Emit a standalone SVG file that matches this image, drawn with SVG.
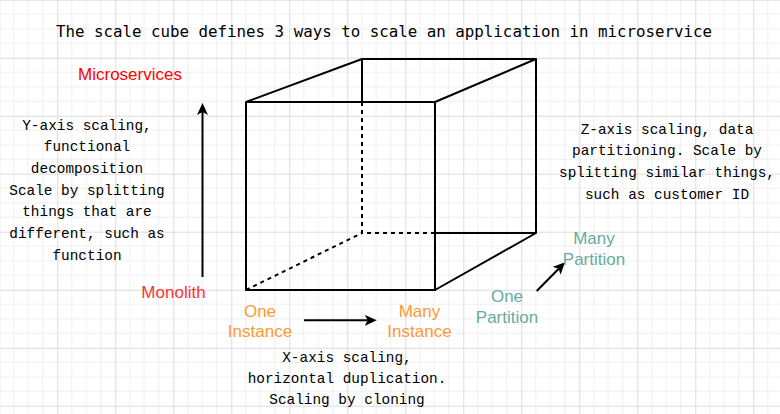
<svg xmlns="http://www.w3.org/2000/svg" width="780" height="414" viewBox="0 0 780 414">
<style>
.edge{fill:none;stroke:#000;stroke-width:2;stroke-linejoin:round}
.dash{stroke-dasharray:4 4}
.arrow{fill:none;stroke:#000;stroke-width:2}
.title{font-family:"DejaVu Sans Mono",monospace;font-size:15.8px;fill:#000}
.desc{font-family:"Liberation Mono","Courier New",monospace;font-size:14.4px;fill:#000}
.lbl{font-family:"Liberation Sans",Arial,sans-serif;font-size:17px}
</style>
<defs>
<pattern id="grid" patternUnits="userSpaceOnUse" x="-0.7" y="-0.3" width="58" height="58">
<rect width="58" height="58" fill="#fff"/>
<path d="M14.5 0V58M29 0V58M43.5 0V58M0 14.5H58M0 29H58M0 43.5H58" stroke="#efefef" stroke-width="1" fill="none"/>
<path d="M0.5 0V58M0 0.5H58" stroke="#dcdcdc" stroke-width="1" fill="none"/>
</pattern>
<marker id="arr" markerUnits="userSpaceOnUse" markerWidth="13" markerHeight="12" refX="3" refY="5.5" orient="auto">
<path d="M0 0L12 5.5L0 11L3 5.5Z" fill="#000"/>
</marker>
</defs>
<rect width="780" height="414" fill="url(#grid)"/>
<g id="title"><text class="title" x="384" y="37" text-anchor="middle">The scale cube defines 3 ways to scale an application in microservice</text></g>
<g id="cube">
<path class="edge" d="M246 102H435V290H246Z"/>
<path class="edge" d="M246 102L362 59H536V233M435 102L536 59M435 290L536 233H435M362 59V102"/>
<path class="edge dash" d="M362 102V233H435M246 290L362 233"/>
</g>
<g id="connectors">
<line class="arrow" x1="202.5" y1="277" x2="202.5" y2="112" marker-end="url(#arr)"/>
<line class="arrow" x1="304" y1="320.3" x2="367.7" y2="320.3" marker-end="url(#arr)"/>
<line class="arrow" x1="536.7" y1="291" x2="558.7" y2="268.7" marker-end="url(#arr)"/>
</g>
<g id="microservices"><text class="lbl" x="130" y="80" text-anchor="middle" fill="#ff0000">Microservices</text></g>
<g id="monolith"><text class="lbl" x="173.5" y="298" text-anchor="middle" fill="#ff3333">Monolith</text></g>
<g id="y-axis-text" class="desc" text-anchor="middle">
<text x="87" y="129.5">Y-axis scaling,</text>
<text x="87" y="151.2">functional</text>
<text x="87" y="172.9">decomposition</text>
<text x="87" y="194.6">Scale by splitting</text>
<text x="87" y="216.3">things that are</text>
<text x="87" y="238">different, such as</text>
<text x="87" y="259.7">function</text>
</g>
<g id="z-axis-text" class="desc" text-anchor="middle">
<text x="667" y="133.5">Z-axis scaling, data</text>
<text x="667" y="155.2">partitioning. Scale by</text>
<text x="667" y="176.9">splitting similar things,</text>
<text x="667" y="198.6">such as customer ID</text>
</g>
<g id="x-axis-text" class="desc" text-anchor="middle">
<text x="347" y="361.7">X-axis scaling,</text>
<text x="347" y="383">horizontal duplication.</text>
<text x="347" y="404.3">Scaling by cloning</text>
</g>
<g id="one-instance" class="lbl" fill="#ff9933" text-anchor="middle">
<text x="260" y="317">One</text>
<text x="260" y="336.5">Instance</text>
</g>
<g id="many-instance" class="lbl" fill="#ff9933" text-anchor="middle">
<text x="419.5" y="317">Many</text>
<text x="419.5" y="336.5">Instance</text>
</g>
<g id="many-partition" class="lbl" fill="#67ab9f" text-anchor="middle">
<text x="594" y="244">Many</text>
<text x="594" y="264.5">Partition</text>
</g>
<g id="one-partition" class="lbl" fill="#67ab9f" text-anchor="middle">
<text x="507" y="302">One</text>
<text x="507" y="322.5">Partition</text>
</g>
</svg>
